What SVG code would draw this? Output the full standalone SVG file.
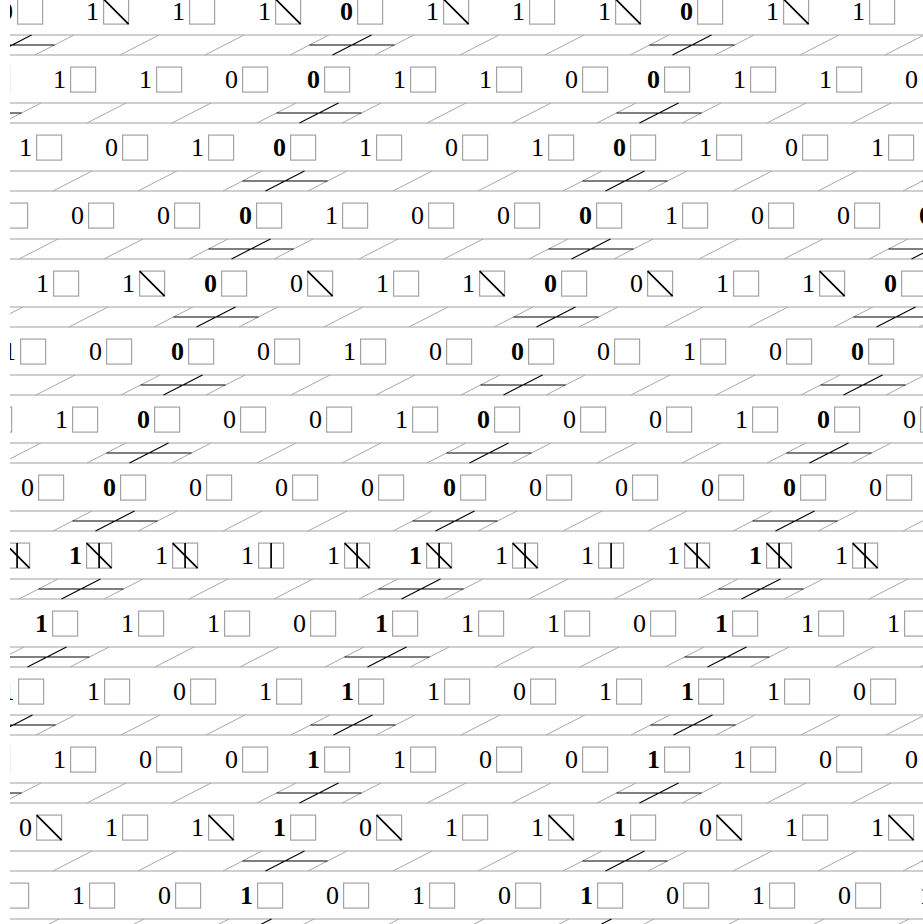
<svg xmlns="http://www.w3.org/2000/svg" xmlns:xlink="http://www.w3.org/1999/xlink" width="923" height="924" viewBox="0 0 923 924">
<style>
.sq{fill:none;stroke:#a3a3a3;stroke-width:1.2}
.hl{fill:none;stroke:#a0a0a0;stroke-width:1.2}
.sl{fill:none;stroke:#a8a8a8;stroke-width:1}
.bk{fill:none;stroke:#000;stroke-width:1.1}
.dg{stroke:#000;stroke-width:1.7}
text{font-family:"Liberation Serif","Times New Roman",serif;font-size:26px;text-anchor:end;fill:#000}
.b{font-weight:bold}
</style>
<defs>
<clipPath id="clip"><rect x="10" y="0" width="913" height="924"/></clipPath>
<rect id="s" class="sq" x="0.6" y="0.6" width="25" height="25"/>
<g id="d"><use href="#s"/><line class="dg" x1="0.6" y1="0.6" x2="25.6" y2="25.6"/></g>
<g id="v"><use href="#s"/><line class="dg" x1="13.1" y1="0.6" x2="13.1" y2="25.6"/></g>
<g id="vd"><use href="#s"/><line class="dg" x1="13.1" y1="0.6" x2="13.1" y2="25.6"/><line class="dg" x1="0.6" y1="0.6" x2="25.6" y2="25.6"/></g>
<g id="band">
<path class="hl" d="M-420 0H1000M-420 20H1000"/>
<path class="sl" d="M-402 20L-363 0M-317 20L-278 0M-232 20L-193 0M-147 20L-108 0M-62 20L-23 0M23 20L62 0M108 20L147 0M193 20L232 0M278 20L317 0M363 20L402 0M448 20L487 0M533 20L572 0M618 20L657 0M703 20L742 0M788 20L827 0M873 20L912 0M958 20L997 0"/>
<path class="bk" d="M-382.5 10H-297.5M-359.5 20L-320.5 0M-42.5 10H42.5M-19.5 20L19.5 0M297.5 10H382.5M320.5 20L359.5 0M637.5 10H722.5M660.5 20L699.5 0"/>
</g>
</defs>
<g clip-path="url(#clip)">
<g id="bands">
<use href="#band" x="12" y="35"/>
<use href="#band" x="319" y="103"/>
<use href="#band" x="285" y="171"/>
<use href="#band" x="251" y="239"/>
<use href="#band" x="216" y="307"/>
<use href="#band" x="183" y="375"/>
<use href="#band" x="149" y="443"/>
<use href="#band" x="115" y="511"/>
<use href="#band" x="81" y="579"/>
<use href="#band" x="47" y="647"/>
<use href="#band" x="13" y="715"/>
<use href="#band" x="319" y="783"/>
<use href="#band" x="285" y="851"/>
<use href="#band" x="252" y="919"/>
</g>
<g id="row-0">
<use href="#s" x="17" y="-1.5"/><text class="b" x="13" y="19.5">0</text>
<use href="#d" x="103" y="-1.5"/><text x="99" y="19.5">1</text>
<use href="#s" x="189" y="-1.5"/><text x="185" y="19.5">1</text>
<use href="#d" x="275" y="-1.5"/><text x="271" y="19.5">1</text>
<use href="#s" x="357" y="-1.5"/><text class="b" x="353" y="19.5">0</text>
<use href="#d" x="443" y="-1.5"/><text x="439" y="19.5">1</text>
<use href="#s" x="529" y="-1.5"/><text x="525" y="19.5">1</text>
<use href="#d" x="615" y="-1.5"/><text x="611" y="19.5">1</text>
<use href="#s" x="697" y="-1.5"/><text class="b" x="693" y="19.5">0</text>
<use href="#d" x="783" y="-1.5"/><text x="779" y="19.5">1</text>
<use href="#s" x="869" y="-1.5"/><text x="865" y="19.5">1</text>
</g>
<g id="row-1" transform="translate(0,68)">
<use href="#s" x="-16" y="-1.5"/>
<use href="#s" x="70" y="-1.5"/><text x="66" y="19.5">1</text>
<use href="#s" x="156" y="-1.5"/><text x="152" y="19.5">1</text>
<use href="#s" x="242" y="-1.5"/><text x="238" y="19.5">0</text>
<use href="#s" x="324" y="-1.5"/><text class="b" x="320" y="19.5">0</text>
<use href="#s" x="410" y="-1.5"/><text x="406" y="19.5">1</text>
<use href="#s" x="496" y="-1.5"/><text x="492" y="19.5">1</text>
<use href="#s" x="582" y="-1.5"/><text x="578" y="19.5">0</text>
<use href="#s" x="664" y="-1.5"/><text class="b" x="660" y="19.5">0</text>
<use href="#s" x="750" y="-1.5"/><text x="746" y="19.5">1</text>
<use href="#s" x="836" y="-1.5"/><text x="832" y="19.5">1</text>
<text x="918" y="19.5">0</text>
</g>
<g id="row-2" transform="translate(0,136)">
<use href="#s" x="36" y="-1.5"/><text x="32" y="19.5">1</text>
<use href="#s" x="122" y="-1.5"/><text x="118" y="19.5">0</text>
<use href="#s" x="208" y="-1.5"/><text x="204" y="19.5">1</text>
<use href="#s" x="290" y="-1.5"/><text class="b" x="286" y="19.5">0</text>
<use href="#s" x="376" y="-1.5"/><text x="372" y="19.5">1</text>
<use href="#s" x="462" y="-1.5"/><text x="458" y="19.5">0</text>
<use href="#s" x="548" y="-1.5"/><text x="544" y="19.5">1</text>
<use href="#s" x="630" y="-1.5"/><text class="b" x="626" y="19.5">0</text>
<use href="#s" x="716" y="-1.5"/><text x="712" y="19.5">1</text>
<use href="#s" x="802" y="-1.5"/><text x="798" y="19.5">0</text>
<use href="#s" x="888" y="-1.5"/><text x="884" y="19.5">1</text>
</g>
<g id="row-3" transform="translate(0,204)">
<use href="#s" x="2" y="-1.5"/>
<use href="#s" x="88" y="-1.5"/><text x="84" y="19.5">0</text>
<use href="#s" x="174" y="-1.5"/><text x="170" y="19.5">0</text>
<use href="#s" x="256" y="-1.5"/><text class="b" x="252" y="19.5">0</text>
<use href="#s" x="342" y="-1.5"/><text x="338" y="19.5">1</text>
<use href="#s" x="428" y="-1.5"/><text x="424" y="19.5">0</text>
<use href="#s" x="514" y="-1.5"/><text x="510" y="19.5">0</text>
<use href="#s" x="596" y="-1.5"/><text class="b" x="592" y="19.5">0</text>
<use href="#s" x="682" y="-1.5"/><text x="678" y="19.5">1</text>
<use href="#s" x="768" y="-1.5"/><text x="764" y="19.5">0</text>
<use href="#s" x="854" y="-1.5"/><text x="850" y="19.5">0</text>
<text class="b" x="932" y="19.5">0</text>
</g>
<g id="row-4" transform="translate(0,272)">
<use href="#s" x="53" y="-1.5"/><text x="49" y="19.5">1</text>
<use href="#d" x="139" y="-1.5"/><text x="135" y="19.5">1</text>
<use href="#s" x="221" y="-1.5"/><text class="b" x="217" y="19.5">0</text>
<use href="#d" x="307" y="-1.5"/><text x="303" y="19.5">0</text>
<use href="#s" x="393" y="-1.5"/><text x="389" y="19.5">1</text>
<use href="#d" x="479" y="-1.5"/><text x="475" y="19.5">1</text>
<use href="#s" x="561" y="-1.5"/><text class="b" x="557" y="19.5">0</text>
<use href="#d" x="647" y="-1.5"/><text x="643" y="19.5">0</text>
<use href="#s" x="733" y="-1.5"/><text x="729" y="19.5">1</text>
<use href="#d" x="819" y="-1.5"/><text x="815" y="19.5">1</text>
<use href="#s" x="901" y="-1.5"/><text class="b" x="897" y="19.5">0</text>
</g>
<g id="row-5" transform="translate(0,340)">
<use href="#s" x="20" y="-1.5"/><text x="16" y="19.5">1</text>
<use href="#s" x="106" y="-1.5"/><text x="102" y="19.5">0</text>
<use href="#s" x="188" y="-1.5"/><text class="b" x="184" y="19.5">0</text>
<use href="#s" x="274" y="-1.5"/><text x="270" y="19.5">0</text>
<use href="#s" x="360" y="-1.5"/><text x="356" y="19.5">1</text>
<use href="#s" x="446" y="-1.5"/><text x="442" y="19.5">0</text>
<use href="#s" x="528" y="-1.5"/><text class="b" x="524" y="19.5">0</text>
<use href="#s" x="614" y="-1.5"/><text x="610" y="19.5">0</text>
<use href="#s" x="700" y="-1.5"/><text x="696" y="19.5">1</text>
<use href="#s" x="786" y="-1.5"/><text x="782" y="19.5">0</text>
<use href="#s" x="868" y="-1.5"/><text class="b" x="864" y="19.5">0</text>
</g>
<g id="row-6" transform="translate(0,408)">
<use href="#s" x="-14" y="-1.5"/>
<use href="#s" x="72" y="-1.5"/><text x="68" y="19.5">1</text>
<use href="#s" x="154" y="-1.5"/><text class="b" x="150" y="19.5">0</text>
<use href="#s" x="240" y="-1.5"/><text x="236" y="19.5">0</text>
<use href="#s" x="326" y="-1.5"/><text x="322" y="19.5">0</text>
<use href="#s" x="412" y="-1.5"/><text x="408" y="19.5">1</text>
<use href="#s" x="494" y="-1.5"/><text class="b" x="490" y="19.5">0</text>
<use href="#s" x="580" y="-1.5"/><text x="576" y="19.5">0</text>
<use href="#s" x="666" y="-1.5"/><text x="662" y="19.5">0</text>
<use href="#s" x="752" y="-1.5"/><text x="748" y="19.5">1</text>
<use href="#s" x="834" y="-1.5"/><text class="b" x="830" y="19.5">0</text>
<use href="#s" x="920" y="-1.5"/><text x="916" y="19.5">0</text>
</g>
<g id="row-7" transform="translate(0,476)">
<use href="#s" x="38" y="-1.5"/><text x="34" y="19.5">0</text>
<use href="#s" x="120" y="-1.5"/><text class="b" x="116" y="19.5">0</text>
<use href="#s" x="206" y="-1.5"/><text x="202" y="19.5">0</text>
<use href="#s" x="292" y="-1.5"/><text x="288" y="19.5">0</text>
<use href="#s" x="378" y="-1.5"/><text x="374" y="19.5">0</text>
<use href="#s" x="460" y="-1.5"/><text class="b" x="456" y="19.5">0</text>
<use href="#s" x="546" y="-1.5"/><text x="542" y="19.5">0</text>
<use href="#s" x="632" y="-1.5"/><text x="628" y="19.5">0</text>
<use href="#s" x="718" y="-1.5"/><text x="714" y="19.5">0</text>
<use href="#s" x="800" y="-1.5"/><text class="b" x="796" y="19.5">0</text>
<use href="#s" x="886" y="-1.5"/><text x="882" y="19.5">0</text>
</g>
<g id="row-8" transform="translate(0,544)">
<use href="#vd" x="4" y="-1.5"/>
<use href="#vd" x="86" y="-1.5"/><text class="b" x="82" y="19.5">1</text>
<use href="#vd" x="172" y="-1.5"/><text x="168" y="19.5">1</text>
<use href="#v" x="258" y="-1.5"/><text x="254" y="19.5">1</text>
<use href="#vd" x="344" y="-1.5"/><text x="340" y="19.5">1</text>
<use href="#vd" x="426" y="-1.5"/><text class="b" x="422" y="19.5">1</text>
<use href="#vd" x="512" y="-1.5"/><text x="508" y="19.5">1</text>
<use href="#v" x="598" y="-1.5"/><text x="594" y="19.5">1</text>
<use href="#vd" x="684" y="-1.5"/><text x="680" y="19.5">1</text>
<use href="#vd" x="766" y="-1.5"/><text class="b" x="762" y="19.5">1</text>
<use href="#vd" x="852" y="-1.5"/><text x="848" y="19.5">1</text>
</g>
<g id="row-9" transform="translate(0,612)">
<use href="#s" x="52" y="-1.5"/><text class="b" x="48" y="19.5">1</text>
<use href="#s" x="138" y="-1.5"/><text x="134" y="19.5">1</text>
<use href="#s" x="224" y="-1.5"/><text x="220" y="19.5">1</text>
<use href="#s" x="310" y="-1.5"/><text x="306" y="19.5">0</text>
<use href="#s" x="392" y="-1.5"/><text class="b" x="388" y="19.5">1</text>
<use href="#s" x="478" y="-1.5"/><text x="474" y="19.5">1</text>
<use href="#s" x="564" y="-1.5"/><text x="560" y="19.5">1</text>
<use href="#s" x="650" y="-1.5"/><text x="646" y="19.5">0</text>
<use href="#s" x="732" y="-1.5"/><text class="b" x="728" y="19.5">1</text>
<use href="#s" x="818" y="-1.5"/><text x="814" y="19.5">1</text>
<use href="#s" x="904" y="-1.5"/><text x="900" y="19.5">1</text>
</g>
<g id="row-10" transform="translate(0,680)">
<use href="#s" x="18" y="-1.5"/><text class="b" x="14" y="19.5">1</text>
<use href="#s" x="104" y="-1.5"/><text x="100" y="19.5">1</text>
<use href="#s" x="190" y="-1.5"/><text x="186" y="19.5">0</text>
<use href="#s" x="276" y="-1.5"/><text x="272" y="19.5">1</text>
<use href="#s" x="358" y="-1.5"/><text class="b" x="354" y="19.5">1</text>
<use href="#s" x="444" y="-1.5"/><text x="440" y="19.5">1</text>
<use href="#s" x="530" y="-1.5"/><text x="526" y="19.5">0</text>
<use href="#s" x="616" y="-1.5"/><text x="612" y="19.5">1</text>
<use href="#s" x="698" y="-1.5"/><text class="b" x="694" y="19.5">1</text>
<use href="#s" x="784" y="-1.5"/><text x="780" y="19.5">1</text>
<use href="#s" x="870" y="-1.5"/><text x="866" y="19.5">0</text>
</g>
<g id="row-11" transform="translate(0,748)">
<use href="#s" x="-16" y="-1.5"/>
<use href="#s" x="70" y="-1.5"/><text x="66" y="19.5">1</text>
<use href="#s" x="156" y="-1.5"/><text x="152" y="19.5">0</text>
<use href="#s" x="242" y="-1.5"/><text x="238" y="19.5">0</text>
<use href="#s" x="324" y="-1.5"/><text class="b" x="320" y="19.5">1</text>
<use href="#s" x="410" y="-1.5"/><text x="406" y="19.5">1</text>
<use href="#s" x="496" y="-1.5"/><text x="492" y="19.5">0</text>
<use href="#s" x="582" y="-1.5"/><text x="578" y="19.5">0</text>
<use href="#s" x="664" y="-1.5"/><text class="b" x="660" y="19.5">1</text>
<use href="#s" x="750" y="-1.5"/><text x="746" y="19.5">1</text>
<use href="#s" x="836" y="-1.5"/><text x="832" y="19.5">0</text>
<text x="918" y="19.5">0</text>
</g>
<g id="row-12" transform="translate(0,816)">
<use href="#d" x="36" y="-1.5"/><text x="32" y="19.5">0</text>
<use href="#s" x="122" y="-1.5"/><text x="118" y="19.5">1</text>
<use href="#d" x="208" y="-1.5"/><text x="204" y="19.5">1</text>
<use href="#s" x="290" y="-1.5"/><text class="b" x="286" y="19.5">1</text>
<use href="#d" x="376" y="-1.5"/><text x="372" y="19.5">0</text>
<use href="#s" x="462" y="-1.5"/><text x="458" y="19.5">1</text>
<use href="#d" x="548" y="-1.5"/><text x="544" y="19.5">1</text>
<use href="#s" x="630" y="-1.5"/><text class="b" x="626" y="19.5">1</text>
<use href="#d" x="716" y="-1.5"/><text x="712" y="19.5">0</text>
<use href="#s" x="802" y="-1.5"/><text x="798" y="19.5">1</text>
<use href="#d" x="888" y="-1.5"/><text x="884" y="19.5">1</text>
</g>
<g id="row-13" transform="translate(0,884)">
<use href="#s" x="3" y="-1.5"/>
<use href="#s" x="89" y="-1.5"/><text x="85" y="19.5">1</text>
<use href="#s" x="175" y="-1.5"/><text x="171" y="19.5">0</text>
<use href="#s" x="257" y="-1.5"/><text class="b" x="253" y="19.5">1</text>
<use href="#s" x="343" y="-1.5"/><text x="339" y="19.5">0</text>
<use href="#s" x="429" y="-1.5"/><text x="425" y="19.5">1</text>
<use href="#s" x="515" y="-1.5"/><text x="511" y="19.5">0</text>
<use href="#s" x="597" y="-1.5"/><text class="b" x="593" y="19.5">1</text>
<use href="#s" x="683" y="-1.5"/><text x="679" y="19.5">0</text>
<use href="#s" x="769" y="-1.5"/><text x="765" y="19.5">1</text>
<use href="#s" x="855" y="-1.5"/><text x="851" y="19.5">0</text>
<text class="b" x="933" y="19.5">1</text>
</g>
</g>
</svg>
